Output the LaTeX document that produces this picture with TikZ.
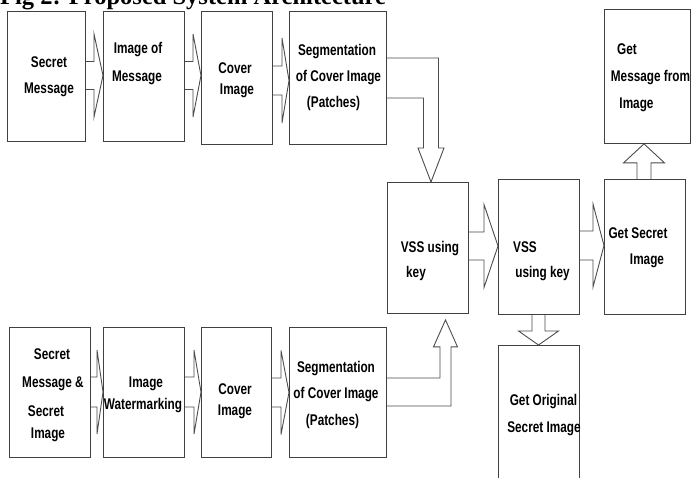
\documentclass[tikz,border=0pt]{standalone}
\usepackage{fontspec}
\setmainfont{Liberation Sans}
\newfontfamily\boxfont{Liberation Sans}[FakeStretch=0.76]
\newfontfamily\titlefont{Liberation Serif}
\usetikzlibrary{calc}
\tikzset{
  box/.style={draw=black!75, line width=0.9pt, anchor=north west, inner sep=0pt},
  blk/.style={draw=black!70, line width=0.9pt, line join=miter},
  txt/.style={anchor=base, inner sep=0pt, font=\boxfont\bfseries\fontsize{15.5}{18}\selectfont},
  ttl/.style={anchor=base west, inner sep=0pt, font=\titlefont\bfseries\fontsize{24.5}{28}\selectfont}
}
% horizontal block arrow: from anchor #1 to anchor #2 at height of coordinate #3
\newcommand\harr[6]{%
  \draw[blk] ($(#1 |- #3)+(0,#4)$) -- ($(#2 |- #3)+(-#6,#4)$) -- ($(#2 |- #3)+(-#6,#5)$)
    -- (#2 |- #3) -- ($(#2 |- #3)+(-#6,-#5)$) -- ($(#2 |- #3)+(-#6,-#4)$) -- ($(#1 |- #3)+(0,-#4)$);}
% vertical block arrow: from anchor #1 to anchor #2 at abscissa of coordinate #3
\newcommand\varr[6]{%
  \draw[blk] ($(#3 |- #1)+(#4,0)$) -- ($(#3 |- #2)+(#4,#6)$) -- ($(#3 |- #2)+(#5,#6)$)
    -- (#3 |- #2) -- ($(#3 |- #2)+(-#5,#6)$) -- ($(#3 |- #2)+(-#4,#6)$) -- ($(#3 |- #1)+(-#4,0)$);}
\begin{document}
\begin{tikzpicture}[x=1pt, y=-1pt]
\useasboundingbox (0,0) rectangle (691,478);
\clip (0,0) rectangle (691,478);
\fill[white] (0,0) rectangle (691,478);

\node[ttl] (title) at (0,5) {Fig 2: Proposed System Architecture};

% top row
\node[box, minimum width=78, minimum height=130] (b1) at (7,11) {};
\node[box, minimum width=81, minimum height=130] (b2) at (103,11) {};
\node[box, minimum width=71, minimum height=133] (b3) at (201,11) {};
\node[box, minimum width=97, minimum height=133] (b4) at (289,11) {};
% bottom row
\node[box, minimum width=81, minimum height=130] (b5) at (9,327) {};
\node[box, minimum width=81, minimum height=130] (b6) at (103,327) {};
\node[box, minimum width=70, minimum height=130] (b7) at (201,327) {};
\node[box, minimum width=97, minimum height=130] (b8) at (289,327) {};
% right part
\node[box, minimum width=81, minimum height=131] (v1) at (387,182) {};
\node[box, minimum width=81, minimum height=135] (v2) at (498,179) {};
\node[box, minimum width=81, minimum height=135] (gs) at (604,179) {};
\node[box, minimum width=86, minimum height=134] (gm) at (604,9) {};
\node[box, minimum width=81, minimum height=150] (go) at (498,345) {};

% texts
\node[txt] (t1a) at (49,68) {Secret};
\node[txt] (t1b) at (49,94) {Message};
\node[txt] (t2a) at (138,54) {Image of};
\node[txt] (t2b) at (137,82) {Message};
\node[txt] (t3a) at (235,73.5) {Cover};
\node[txt] (t3b) at (237,95) {Image};
\node[txt] (t4a) at (337,56) {Segmentation};
\node[txt] (t4b) at (338.5,82) {of Cover Image};
\node[txt] (t4c) at (333.5,108) {(Patches)};

\node[txt] (t5a) at (52,359.5) {Secret};
\node[txt] (t5b) at (53,387.5) {Message \&};
\node[txt] (t5c) at (46,416.5) {Secret};
\node[txt] (t5d) at (48,438) {Image};
\node[txt] (t6a) at (146,387.5) {Image};
\node[txt] (t6b) at (143,409) {Watermarking};
\node[txt] (t7a) at (235,394.5) {Cover};
\node[txt] (t7b) at (235,415.5) {Image};
\node[txt] (t8a) at (336,373) {Segmentation};
\node[txt] (t8b) at (336,399) {of Cover Image};
\node[txt] (t8c) at (332.5,425.5) {(Patches)};

\node[txt] (tv1a) at (430,253) {VSS using};
\node[txt] (tv1b) at (416,278) {key};
\node[txt] (tv2a) at (525,253) {VSS};
\node[txt] (tv2b) at (542.5,278) {using key};
\node[txt] (tgsa) at (638,238.5) {Get Secret};
\node[txt] (tgsb) at (647,264.5) {Image};
\node[txt] (tgma) at (627,54.5) {Get};
\node[txt] (tgmb) at (650.5,81.5) {Message from};
\node[txt] (tgmc) at (636.5,108.5) {Image};
\node[txt] (tgoa) at (543.5,405.5) {Get Original};
\node[txt] (tgob) at (544,432) {Secret Image};

% reference heights / abscissae for the block arrows
\coordinate (y1) at (0,75.5);
\coordinate (y3) at (0,80.5);
\coordinate (y5) at (0,392);
\coordinate (y7) at (0,392.5);
\coordinate (y8) at (0,246);
\coordinate (y9) at (0,245.5);
\coordinate (xd) at (538.5,0);
\coordinate (xu) at (644,0);

% horizontal block arrows
\harr{b1.east}{b2.west}{y1}{14}{41.5}{9}
\harr{b2.east}{b3.west}{y1}{14}{41.5}{8}
\harr{b3.east}{b4.west}{y3}{14.5}{42.5}{7}
\harr{b5.east}{b6.west}{y5}{15}{42}{6}
\harr{b6.east}{b7.west}{y5}{15}{42}{7}
\harr{b7.east}{b8.west}{y7}{14.5}{42}{8}
\harr{v1.east}{v2.west}{y8}{14}{41.5}{14}
\harr{v2.east}{gs.west}{y9}{14.5}{41.5}{11}

% vertical block arrows
\varr{v2.south}{go.north}{xd}{6.5}{20}{-14}
\varr{gs.north}{gm.south}{xu}{7}{20.5}{19}

% elbow block arrow: top segmentation -> VSS 1
\coordinate (e1) at (431,78);
\draw[blk] ($(b4.east |- e1)+(0,-20)$) -- ($(e1)+(7.5,-20)$)
  -- ($(e1 |- v1.north)+(7.5,-34)$) -- ++(5.5,0) -- (e1 |- v1.north)
  -- ++(-13,-34) -- ++(5.5,0) -- ($(e1)+(-7.5,20)$) -- ($(b4.east |- e1)+(0,20)$);

% elbow block arrow: bottom segmentation -> VSS 1
\coordinate (e2) at (445.5,392);
\coordinate (tip2) at ($(e2 |- v1.south)+(0,6)$);
\draw[blk] ($(b8.east |- e2)+(0,-14)$) -- ($(e2)+(-5.5,-14)$)
  -- ($(tip2)+(-5.5,27)$) -- ++(-6.5,0) -- (tip2)
  -- ++(12,27) -- ++(-6.5,0) -- ($(e2)+(5.5,14)$) -- ($(b8.east |- e2)+(0,14)$);
\end{tikzpicture}
\end{document}
